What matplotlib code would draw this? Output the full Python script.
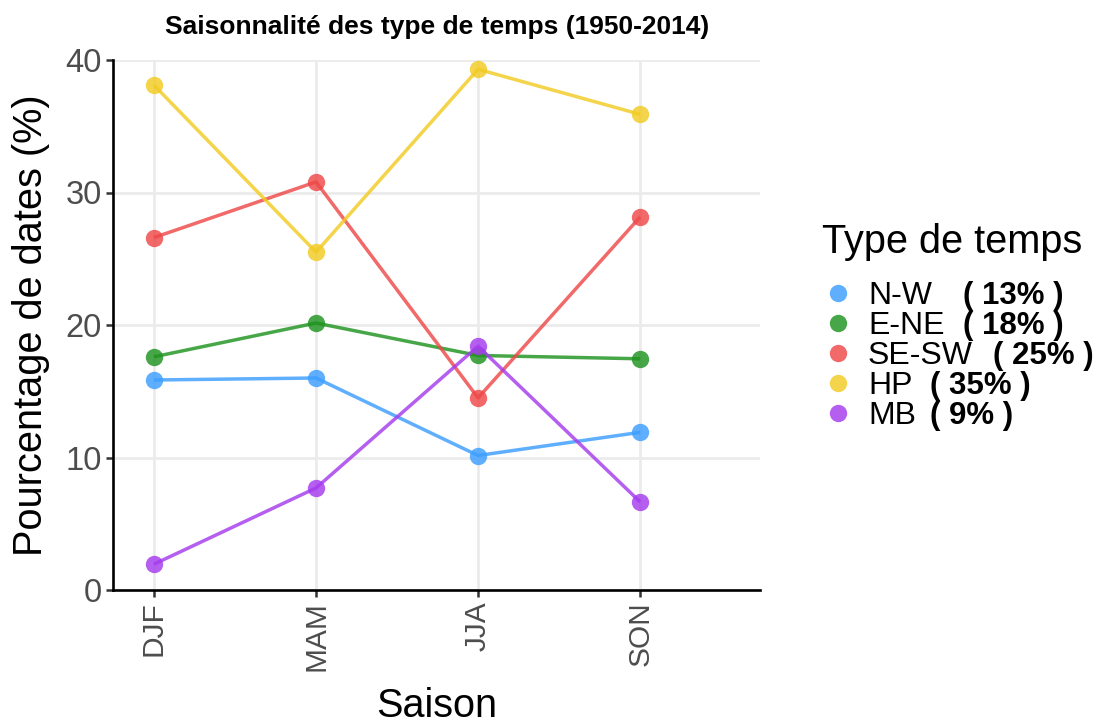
import matplotlib
matplotlib.use("Agg")
import matplotlib.pyplot as plt
from matplotlib.lines import Line2D

plt.rcParams['font.family'] = ['Liberation Sans', 'DejaVu Sans']

saisons = ["DJF", "MAM", "JJA", "SON"]
types = ["N-W", "E-NE", "SE-SW", "HP", "MB"]
parts = ["( 13% )", "( 18% )", "( 25% )", "( 35% )", "( 9% )"]
nw = [15.85, 16.0, 10.15, 11.9]
ene = [17.6, 20.15, 17.7, 17.45]
sesw = [26.6, 30.8, 14.5, 28.15]
hp = [38.1, 25.5, 39.3, 35.9]
mb = [1.95, 7.7, 18.4, 6.65]
series = [nw, ene, sesw, hp, mb]
couleurs = ["#3d9eff", "#1f931f", "#ee4848", "#f2cb22", "#a53cee"]

W, H = 1099, 727
fig = plt.figure(figsize=(W / 100, H / 100), dpi=100)
ax = fig.add_axes([113 / W, 1 - 590 / H, (760 - 113) / W, (590 - 60) / H])

x = list(range(len(saisons)))
for vals, c in zip(series, couleurs):
    ax.plot(x, vals, color=c, lw=2.5, alpha=0.82, marker="o", ms=12.5,
            markeredgewidth=0, solid_capstyle="butt")

ax.set_xlim(-0.253, 3.74)
ax.set_ylim(0, 40)
ax.set_xticks(x)
ax.set_xticklabels(saisons, rotation=90)
ax.set_yticks([0, 10, 20, 30, 40])
ax.grid(True, color="#ebebeb", lw=2.0)
ax.set_axisbelow(True)
for s in ["top", "right"]:
    ax.spines[s].set_visible(False)
for s in ["left", "bottom"]:
    ax.spines[s].set_linewidth(1.9)
    ax.spines[s].set_color("black")
ax.tick_params(axis="both", colors="#333333", length=5, width=1.8,
               labelcolor="#4d4d4d", pad=3)
ax.tick_params(axis="x", labelsize=21.5)
ax.tick_params(axis="y", labelsize=23.5)

ax.set_xlabel("Saison", fontsize=28.5, va="center")
ax.xaxis.set_label_coords(0.5, (590 - 706) / 530)
ax.set_ylabel("Pourcentage de dates (%)", fontsize=28.6, va="center")
ax.yaxis.set_label_coords((31 - 113) / 647, 0.5)

fig.text(437 / W, 1 - 27 / H, "Saisonnalité des type de temps (1950-2014)",
         ha="center", va="center", fontsize=19, fontweight="bold")

fig.text(822 / W, 1 - 242 / H, "Type de temps", fontsize=28.6,
         ha="left", va="center")

handles = [Line2D([], [], color=c, marker="o", ls="none", ms=12.5,
                  markeredgewidth=0, alpha=0.82) for c in couleurs]
leg = fig.legend(handles, types, loc="upper left",
                 bbox_to_anchor=(822 / W, 1 - 281 / H), frameon=False,
                 fontsize=23, handlelength=1.0, handletextpad=0.44,
                 labelspacing=0.0, borderpad=0, borderaxespad=0)

fig.canvas.draw()
bold_x = [963, 963, 993, 930, 930]
inv = fig.transFigure.inverted()
for bx, t, p in zip(bold_x, leg.get_texts(), parts):
    bb = t.get_window_extent()
    yc = inv.transform((0, (bb.y0 + bb.y1) / 2))[1]
    fig.text(bx / W, yc, p, fontsize=22.5, fontweight="bold",
             ha="left", va="center")

fig.savefig("out.png", dpi=100)
